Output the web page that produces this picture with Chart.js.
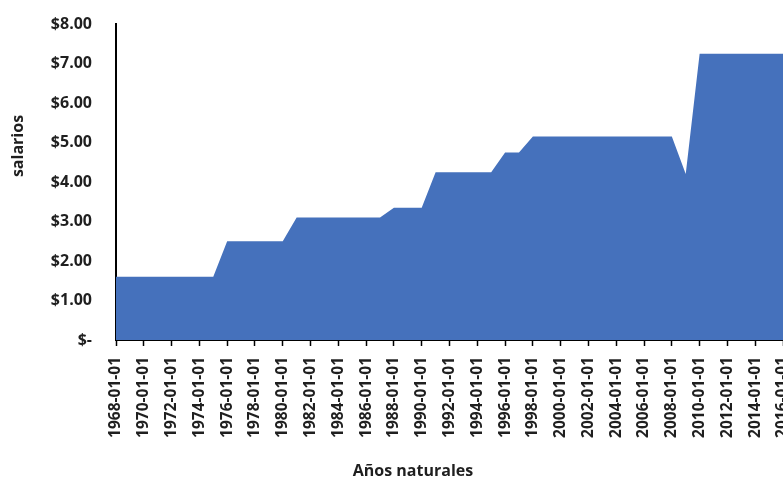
<!DOCTYPE html>
<html>
<head>
<meta charset="utf-8">
<script src="https://cdn.jsdelivr.net/npm/chart.js@4"></script>
<style>
  html, body { margin: 0; padding: 0; background: #fff; overflow: hidden; }
  #wrap { width: 783px; height: 480px; }
</style>
</head>
<body>
<div id="wrap"><canvas id="wageChart"></canvas></div>
<script>
// años 1968..2016, salario mínimo
const years = [
  1968, 1969, 1970, 1971, 1972, 1973, 1974, 1975, 1976, 1977,
  1978, 1979, 1980, 1981, 1982, 1983, 1984, 1985, 1986, 1987,
  1988, 1989, 1990, 1991, 1992, 1993, 1994, 1995, 1996, 1997,
  1998, 1999, 2000, 2001, 2002, 2003, 2004, 2005, 2006, 2007,
  2008, 2009, 2010, 2011, 2012, 2013, 2014, 2015, 2016
];
const wages = [
  1.60, 1.60, 1.60, 1.60, 1.60, 1.60, 1.60, 1.60, 2.50, 2.50,
  2.50, 2.50, 2.50, 3.10, 3.10, 3.10, 3.10, 3.10, 3.10, 3.10,
  3.35, 3.35, 3.35, 4.25, 4.25, 4.25, 4.25, 4.25, 4.75, 4.75,
  5.15, 5.15, 5.15, 5.15, 5.15, 5.15, 5.15, 5.15, 5.15, 5.15,
  5.15, 4.20, 7.25, 7.25, 7.25, 7.25, 7.25, 7.25, 7.25
];
const labels = years.map(y => y + '-01-01');
const xTitle = 'Años naturales';
const yTitle = 'salarios';

const font = '"Open Sans", Lato, sans-serif';
const txt = '#1f1f1f';

// titles placed like the original (not centred on the plot area)
const axisTitles = {
  id: 'axisTitles',
  afterDraw(chart) {
    const c = chart.ctx;
    c.save();
    c.fillStyle = txt;
    c.font = 'bold 16px ' + font;
    c.textAlign = 'center';
    c.textBaseline = 'middle';
    c.fillText(xTitle, 413, 471);
    c.translate(18, 146);
    c.rotate(-Math.PI / 2);
    c.fillText(yTitle, 0, 0);
    c.restore();
  }
};

const ctx = document.getElementById('wageChart').getContext('2d');
new Chart(ctx, {
  type: 'line',
  data: {
    labels: labels,
    datasets: [{
      data: wages,
      fill: 'origin',
      backgroundColor: '#4571BC',
      borderWidth: 0,
      pointRadius: 0,
      tension: 0
    }]
  },
  options: {
    responsive: true,
    maintainAspectRatio: false,
    animation: false,
    layout: { padding: { top: 24, right: 0, bottom: 0, left: 0 } },
    plugins: {
      legend: { display: false },
      tooltip: { enabled: false }
    },
    scales: {
      x: {
        offset: false,
        border: { color: '#000', width: 2 },
        grid: {
          drawOnChartArea: false,
          tickLength: 6,
          tickWidth: 1.5,
          color: c => (c.index % 2 === 0 ? '#000' : 'rgba(0,0,0,0)')
        },
        ticks: {
          autoSkip: false,
          maxRotation: 90,
          minRotation: 90,
          padding: 11,
          color: txt,
          font: { family: font, size: 15.5, weight: 'bold' },
          callback: function (v, i) { return i % 2 === 0 ? this.getLabelForValue(v) : ''; }
        },
        afterFit: s => { s.height = 140; s.paddingLeft = 0; s.paddingRight = 0; }
      },
      y: {
        min: 0,
        max: 8,
        border: { color: '#000', width: 2 },
        grid: { display: false },
        ticks: {
          stepSize: 1,
          padding: 16,
          color: txt,
          font: { family: font, size: 16, weight: 'bold' },
          callback: v => (v === 0 ? '$-' : '$' + v.toFixed(2))
        },
        afterFit: s => { s.width = 116; s.paddingTop = 0; s.paddingBottom = 0; }
      }
    }
  },
  plugins: [axisTitles]
});
</script>
</body>
</html>
